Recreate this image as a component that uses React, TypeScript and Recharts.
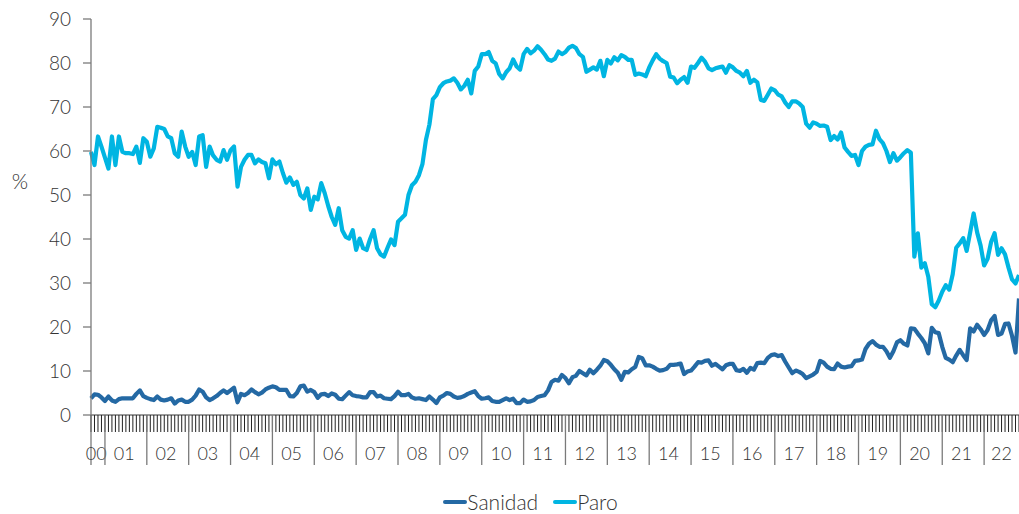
import { LineChart, Line, XAxis, YAxis, Legend } from "recharts";

// monthly series, Sep 2000 .. Nov 2022 (share, %)
const paro = [
  59.8, 56.8, 63.3, 61,
  58.5, 56, 63.3, 56.8, 63.3, 59.8, 59.5, 59.5, 59.3, 61, 57.3, 62.9,
  62.1, 58.7, 60.6, 65.5, 65.3, 65, 63.3, 62.9, 59.5, 58.7, 64.4, 61,
  58.7, 59.8, 56.8, 63.3, 63.6, 56.4, 61, 59, 58, 57.6, 60.2, 58,
  60.2, 61, 51.9, 56.4, 58, 59.1, 59.1, 57.2, 58.1, 57.5, 57.2, 53.8,
  58.1, 57, 57.6, 55, 52.8, 54, 52.3, 53, 50, 49.2, 51.5, 46.6,
  49.6, 49, 52.7, 50.4, 47.5, 45, 43.2, 47, 42, 40.5, 40.1, 42,
  37.5, 40.1, 37.9, 37.5, 40, 42, 37.9, 36.5, 36, 38, 39.9, 38.6,
  43.9, 44.7, 45.5, 50, 52.2, 53, 54.5, 57, 62.5, 66, 71.8, 72.7,
  74.5, 75.4, 75.8, 76, 76.5, 75.5, 74, 74.8, 76.2, 73.1, 78.2, 79.2,
  82, 82, 82.5, 80.5, 79.9, 77.5, 76.5, 77.9, 78.8, 80.8, 79.2, 78.5,
  82, 83.2, 82.2, 82.8, 83.8, 83, 82, 80.8, 80.5, 81, 82.6, 82,
  82.5, 83.5, 83.9, 83.4, 82, 81.4, 78, 78.5, 79, 78.5, 80.5, 77,
  80.7, 79.9, 81.3, 80.6, 81.8, 81.4, 80.7, 80.7, 77.3, 77.6, 77.4, 77,
  79, 80.6, 82, 81, 80.4, 80, 76.9, 76.7, 75.4, 76.2, 76.8, 75.5,
  79.2, 78.9, 80, 81.2, 80.3, 78.8, 78.4, 78.8, 79, 79.2, 77.8, 79.5,
  79, 78.2, 77.8, 77, 78.2, 75.5, 76.2, 75.6, 71.6, 71.4, 72.8, 74.2,
  73.8, 72.8, 72.4, 71, 70, 71.3, 71.3, 70.8, 70, 66.2, 65.3, 66.5,
  66.2, 65.7, 65.8, 65.5, 62.5, 63.4, 62.6, 64.2, 60.8, 59.8, 58.9, 59.1,
  56.8, 60, 61, 61.4, 61.5, 64.6, 62.7, 61.8, 60, 57.5, 59.5, 57.8,
  58.6, 59.5, 60.2, 59.6, 36, 41.3, 33.5, 34.5, 31.4, 25.2, 24.5, 26,
  28, 29.5, 28.5, 32, 38, 39, 40.2, 37.3, 41.5, 45.8, 41.5, 38.5,
  34, 35.5, 39.3, 41.3, 36.4, 37.9, 36.5, 33.5, 30.8, 29.9, 31.8,
];

const sanidad = [
  3.8, 4.7, 4.6, 4,
  3.2, 4.2, 3.3, 3, 3.6, 3.8, 3.8, 3.8, 3.8, 4.8, 5.6, 4.3,
  3.9, 3.6, 3.4, 4.2, 3.5, 3.3, 3.5, 3.8, 2.6, 3.3, 3.5, 3,
  3, 3.5, 4.4, 5.8, 5.3, 4, 3.4, 3.8, 4.3, 5, 5.6, 5,
  5.6, 6.2, 2.9, 4.8, 4.5, 5, 5.8, 5.2, 4.7, 5.1, 5.8, 6.2,
  6.5, 6.3, 5.7, 5.7, 5.7, 4.3, 4.2, 5, 6.5, 6.7, 5.3, 5.7,
  5.2, 3.9, 4.7, 4.8, 4.3, 4.9, 4.6, 3.7, 3.6, 4.4, 5.2, 4.5,
  4.3, 4.2, 4, 4, 5.2, 5.2, 4.2, 4.4, 3.8, 3.7, 3.6, 4.3,
  5.3, 4.5, 4.5, 4.8, 4, 3.7, 3.8, 3.6, 3.4, 4.2, 3.5, 2.7,
  4, 4.4, 5, 4.8, 4.2, 3.9, 4, 4.3, 4.8, 5.1, 5.4, 4.3,
  3.7, 3.8, 4, 3.2, 3, 3, 3.4, 3.8, 3.4, 3.7, 2.7, 2.7,
  3.5, 3, 3.1, 3.4, 4.1, 4.3, 4.5, 5.6, 7.5, 8, 7.8, 9.1,
  8.4, 7.2, 8.6, 8.9, 10, 9.5, 9, 10.3, 9.5, 10.3, 11.2, 12.5,
  12.2, 11.4, 10.4, 9.6, 8, 9.8, 9.7, 10.4, 10.9, 13.2, 12.9, 11.3,
  11.3, 11, 10.5, 10.1, 10.2, 10.5, 11.4, 11.4, 11.5, 11.7, 9.3, 9.9,
  10.1, 11, 12, 11.9, 12.3, 12.4, 11.2, 11.6, 11, 10.4, 11.3, 11.6,
  11.6, 10.2, 10, 10.5, 9.6, 10.7, 10.3, 11.8, 11.9, 11.8, 13, 13.6,
  13.8, 13.4, 13.6, 12.1, 10.8, 9.5, 10.1, 9.8, 9.3, 8.4, 8.8, 9.2,
  9.8, 12.3, 11.9, 11, 10.5, 10.4, 11.7, 11, 10.8, 11, 11.1, 12.3,
  12.4, 12.6, 15, 16.2, 16.8, 16, 15.5, 15.5, 14.5, 13, 14.5, 16.5,
  17, 16.2, 15.8, 19.7, 19.6, 18.5, 17.5, 16.3, 14, 19.8, 18.8, 18.6,
  15.5, 13, 12.6, 12, 13.5, 14.8, 13.6, 12.5, 19.7, 19, 20.5, 19.5,
  18.2, 19.3, 21.5, 22.5, 18.2, 18.5, 20.7, 20.8, 18, 14.2, 26.5,
];

const yearLabels = [
  "00", "01", "02", "03", "04", "05", "06", "07", "08", "09", "10", "11",
  "12", "13", "14", "15", "16", "17", "18", "19", "20", "21", "22",
];
const FIRST_YEAR_MONTHS = 4; // 2000 starts in September

const yTicks = [0, 10, 20, 30, 40, 50, 60, 70, 80, 90];

const N = paro.length;
const rows = paro.map((p, i) => ({ i, paro: p, sanidad: sanidad[i] }));
const monthTicks = rows.map((r) => r.i);

const W = 1019;
const H = 514;
const LEFT = 91;
const PLOT_W = W - LEFT;
const STEP = PLOT_W / (N - 1);

const C_SANIDAD = "#2469a4";
const C_PARO = "#00b5e2";
const FONT = "Lato, 'Open Sans', sans-serif";
const TXT = "#333";

function yearStart(k: number) {
  return k === 0 ? 0 : FIRST_YEAR_MONTHS + 12 * (k - 1);
}

// eslint-disable-next-line @typescript-eslint/no-explicit-any
function MonthTick(props: any) {
  const { x, y, payload } = props;
  const i = payload.value as number;
  const k = i < FIRST_YEAR_MONTHS ? 0 : 1 + Math.floor((i - FIRST_YEAR_MONTHS) / 12);
  const isStart = yearStart(k) === i;
  let label = null;
  if (isStart && yearLabels[k]) {
    const end = Math.min(k === 0 ? FIRST_YEAR_MONTHS : i + 12, N) - 1;
    const mid = (i + end) / 2;
    label = (
      <text x={x + (mid - i) * STEP} y={y + 45} textAnchor="middle"
        style={{ fontSize: 18, fontWeight: 300, fill: TXT, fontFamily: FONT }}>
        {yearLabels[k]}
      </text>
    );
  }
  return (
    <g>
      <line x1={x} x2={x} y1={y} y2={y + 17} stroke="#222" strokeWidth={1} />
      {isStart && <line x1={x} x2={x} y1={y} y2={y + 50} stroke="#7a7a7a" strokeWidth={1.3} />}
      {label}
    </g>
  );
}

function LegendContent() {
  const items = [
    { name: "Sanidad", color: C_SANIDAD },
    { name: "Paro", color: C_PARO },
  ];
  return (
    <div style={{ display: "flex", justifyContent: "center", alignItems: "center", gap: 15, paddingLeft: 42 }}>
      {items.map((it) => (
        <div key={it.name} style={{ display: "flex", alignItems: "center" }}>
          <span style={{ display: "inline-block", width: 24, height: 4, borderRadius: 2, background: it.color }} />
          <span style={{ fontSize: 21, fontWeight: 300, color: TXT, fontFamily: FONT }}>{it.name}</span>
        </div>
      ))}
    </div>
  );
}

export default function App() {
  return (
    <div style={{ position: "absolute", left: 0, top: 0, width: W, height: H, background: "#fff", fontFamily: FONT }}>
      <LineChart width={W} height={H} data={rows} margin={{ top: 19, right: 0, bottom: 49, left: 0 }}>
        <XAxis dataKey="i" type="number" domain={[0, N - 1]} ticks={monthTicks} interval={0}
          height={50} tickLine={false} tickSize={0} tickMargin={0}
          axisLine={{ stroke: "#7a7a7a", strokeWidth: 1.3 }} tick={<MonthTick />} />
        <YAxis domain={[0, 90]} ticks={yTicks} interval={0} width={LEFT}
          tickSize={8} tickMargin={12}
          tickLine={{ stroke: "#7a7a7a", strokeWidth: 1.3 }}
          axisLine={{ stroke: "#7a7a7a", strokeWidth: 1.3 }}
          tick={{ fontSize: 19, fontWeight: 300, fill: TXT, fontFamily: FONT }} />
        <text x={20} y={189} textAnchor="middle" style={{ fontSize: 21, fontWeight: 300, fill: TXT, fontFamily: FONT }}>%</text>
        <Line dataKey="sanidad" name="Sanidad" stroke={C_SANIDAD} strokeWidth={4.2} dot={false}
          strokeLinejoin="round" isAnimationActive={false} />
        <Line dataKey="paro" name="Paro" stroke={C_PARO} strokeWidth={4.2} dot={false}
          strokeLinejoin="round" isAnimationActive={false} />
        <Legend layout="horizontal" verticalAlign="middle" align="center"
          wrapperStyle={{ top: 489, left: 0, width: W }} content={<LegendContent />} />
      </LineChart>
    </div>
  );
}
